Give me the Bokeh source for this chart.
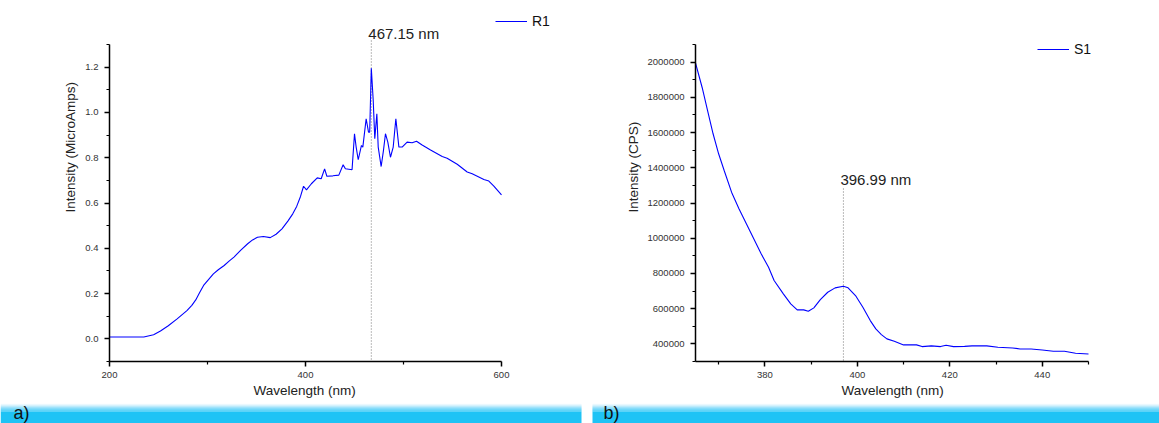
from bokeh.plotting import figure
from bokeh.layouts import column, row
from bokeh.models import (Range1d, FixedTicker, PrintfTickFormatter, Label,
                          Legend, LegendItem, Title)
from bokeh.embed import file_html
from bokeh.resources import INLINE
from bokeh.core.properties import value

# ---------------- data ----------------
r1_wavelength = [200, 235, 245, 252, 260, 269, 279, 284, 288, 292, 296, 301, 306, 311, 317,
                 322, 327, 334, 341, 346, 351, 357, 364, 370, 376, 382, 387, 391, 395, 398,
                 401, 406, 412, 416, 419.5, 421.8, 428, 434, 438.4, 440.7, 447.5, 450, 451.7,
                 453.8, 457.1, 458.5, 461.9, 464.3, 465.5, 467.15, 469.1, 470.7, 472.8, 474.2,
                 477.2, 479.5, 481.6, 484, 486.7, 489.5, 492.2, 495.3, 498.6, 503.7, 508.8,
                 513.3, 519, 527.6, 539.5, 544.5, 554.8, 565, 570.1, 582, 587.1, 592.2, 600]
r1_intensity = [0.008, 0.008, 0.018, 0.035, 0.058, 0.088, 0.125, 0.148, 0.172, 0.205, 0.236,
                0.262, 0.287, 0.305, 0.324, 0.343, 0.361, 0.392, 0.420, 0.437, 0.449, 0.452,
                0.447, 0.462, 0.486, 0.520, 0.552, 0.585, 0.630, 0.674, 0.658, 0.685, 0.711,
                0.707, 0.751, 0.718, 0.720, 0.723, 0.769, 0.751, 0.747, 0.906, 0.847, 0.791,
                0.854, 0.847, 0.972, 0.913, 0.913, 1.195, 1.053, 0.884, 0.994, 0.847, 0.761,
                0.830, 0.906, 0.869, 0.802, 0.847, 0.972, 0.847, 0.847, 0.869, 0.866, 0.873,
                0.856, 0.834, 0.805, 0.798, 0.771, 0.737, 0.729, 0.704, 0.697, 0.675, 0.636]
r1_peak = 467.15

s1_wavelength = [365, 366.45, 367.6, 368.8, 370, 371.2, 372.8, 374.4, 376, 377.6, 379.2,
                 380.8, 382, 384, 385.6, 387, 388.4, 389.4, 390.6, 392, 393.6, 395.2, 396.99,
                 398, 399.6, 401.2, 402.8, 404, 405.2, 406.4, 408, 410, 412.8, 414, 416, 418,
                 419.2, 420.8, 423.2, 424.8, 428, 430.4, 433.6, 435.2, 437.6, 440, 442.4,
                 444.8, 447.2, 450]
s1_intensity = [1995000, 1854500, 1725600, 1593200, 1479500, 1384700, 1261400, 1167000,
                1081800, 996600, 911400, 835200, 759700, 684000, 627300, 593000, 593000,
                585200, 604500, 651700, 693200, 718200, 727300, 718200, 674400, 608000,
                532400, 485200, 452800, 428400, 414700, 394300, 394300, 384700, 388500,
                384700, 392000, 384700, 386000, 388500, 388500, 381000, 377000, 371400,
                371400, 365700, 358100, 358100, 346700, 343000]
s1_peak = 396.99

a_xlim = (200, 600)
a_ylim = (-0.1, 1.3)
a_xticks = [200, 400, 600]
a_xminor = [300, 500]
a_yticks = [0.0, 0.2, 0.4, 0.6, 0.8, 1.0, 1.2]
a_yminor = [-0.1, 0.1, 0.3, 0.5, 0.7, 0.9, 1.1, 1.3]
b_xlim = (365, 450)
b_ylim = (300000, 2100000)
b_xticks = [380, 400, 420, 440]
b_xminor = [370, 390, 410, 430, 450]
b_yticks = [400000, 600000, 800000, 1000000, 1200000, 1400000, 1600000, 1800000, 2000000]
b_yminor = [300000, 500000, 700000, 900000, 1100000, 1300000, 1500000, 1700000, 1900000, 2100000]

FONT = "Liberation Sans"
LINE = "#0000ff"
DOT = "#777777"

# axis box geometry in page pixels
AXIS_TOP, AXIS_BOTTOM = 44, 361
FRAME_TOP = 8


def make_panel(width, axis_left, axis_right, frame_left_page, frame_right_page,
               xlim, ylim, xlabel_offset):
    # extend the frame beyond the axis box so annotations fit; axes keep their bounds
    xs = (xlim[1] - xlim[0]) / (axis_right - axis_left)
    ys = (ylim[1] - ylim[0]) / (AXIS_BOTTOM - AXIS_TOP)
    x_end = xlim[1] + (frame_right_page - axis_right) * xs
    y_end = ylim[1] + (AXIS_TOP - FRAME_TOP) * ys
    p = figure(width=width, height=403, x_range=Range1d(xlim[0], x_end),
               y_range=Range1d(ylim[0], y_end), output_backend="svg", toolbar_location=None,
               min_border_left=axis_left - frame_left_page,
               min_border_right=frame_left_page + width - frame_right_page,
               min_border_top=FRAME_TOP, min_border_bottom=403 - AXIS_BOTTOM)
    p.grid.visible = False
    p.outline_line_color = None
    p.background_fill_alpha = 0
    p.xaxis.bounds = xlim
    p.yaxis.bounds = ylim
    for ax in p.axis:
        ax.axis_line_width = 1.5
        ax.axis_line_color = "#000000"
        ax.major_tick_line_width = 1.5
        ax.minor_tick_line_width = 1.2
        ax.major_tick_out = 5
        ax.major_tick_in = 0
        ax.minor_tick_out = 3
        ax.minor_tick_in = 0
        ax.major_label_text_font = FONT
        ax.major_label_text_font_size = "9.5px"
        ax.major_label_text_color = "#333333"
    p.xaxis.major_label_standoff = 5
    p.yaxis.major_label_standoff = 6
    p.add_layout(Title(text="Wavelength (nm)", align="left", offset=xlabel_offset,
                       vertical_align="top", standoff=4, text_font=FONT,
                       text_font_size="13.5px", text_font_style="normal",
                       text_color="#222222"), "below")
    return p, ys


def add_legend(p, r, name, loc):
    lg = Legend(items=[LegendItem(label=name, renderers=[r])], location=loc,
                padding=0, margin=0, spacing=0, glyph_width=32, glyph_height=16,
                label_height=16, label_standoff=5, label_text_font=FONT,
                label_text_font_size="14px", label_text_color="#111111",
                border_line_color=None, background_fill_alpha=0)
    p.add_layout(lg)


def ylabel(p, text, standoff):
    p.add_layout(Title(text=text, align="left", offset=149, standoff=standoff,
                       text_font=FONT, text_font_size="13.5px", text_font_style="normal",
                       text_color="#222222"), "left")


def peak_label(p, x, y_from_bottom, text):
    p.add_layout(Label(x=x, y=y_from_bottom, y_units="screen", x_offset=-3, text=text,
                       text_font=FONT, text_font_size="15px", text_baseline="middle",
                       text_align="left", text_color="#222222"))


# ---------------- panel a ----------------
p1, ys1 = make_panel(585, 109, 501, 0, 565, a_xlim, a_ylim, 144)
p1.xaxis.ticker = FixedTicker(ticks=a_xticks, minor_ticks=a_xminor)
p1.yaxis.ticker = FixedTicker(ticks=a_yticks, minor_ticks=a_yminor)
p1.yaxis.formatter = PrintfTickFormatter(format="%.1f")
p1.segment(x0=[r1_peak], y0=[a_ylim[1] + 4 * ys1], x1=[r1_peak], y1=[a_ylim[0]],
           line_color=DOT, line_width=1, line_dash="1 2")
r1 = p1.line(r1_wavelength, r1_intensity, line_color=LINE, line_width=1.1)
peak_label(p1, r1_peak, AXIS_BOTTOM - 33, "467.15 nm")
add_legend(p1, r1, "R1", (495 - 109, AXIS_BOTTOM - 29))
ylabel(p1, "Intensity (MicroAmps)", 10)

# ---------------- panel b ----------------
p2, ys2 = make_panel(574, 695, 1088, 585, 1100, b_xlim, b_ylim, 146)
p2.xaxis.ticker = FixedTicker(ticks=b_xticks, minor_ticks=b_xminor)
p2.yaxis.ticker = FixedTicker(ticks=b_yticks, minor_ticks=b_yminor)
p2.yaxis.formatter = PrintfTickFormatter(format="%d")
p2.segment(x0=[s1_peak], y0=[b_ylim[1] - (188 - AXIS_TOP) * ys2], x1=[s1_peak], y1=[b_ylim[0]],
           line_color=DOT, line_width=1, line_dash="1 2")
r2 = p2.line(s1_wavelength, s1_intensity, line_color=LINE, line_width=1.1)
peak_label(p2, s1_peak, AXIS_BOTTOM - 179, "396.99 nm")
add_legend(p2, r2, "S1", (1037 - 695, AXIS_BOTTOM - 57))
ylabel(p2, "Intensity (CPS)", 7)

# ---------------- caption bands ----------------
W = 1159
H = 20
p3 = figure(width=W, height=H, x_range=Range1d(0, W), y_range=Range1d(0, H),
            output_backend="svg", toolbar_location=None, min_border=0,
            x_axis_location=None, y_axis_location=None)
p3.grid.visible = False
p3.outline_line_color = None
grad = ["#f2fbfe", "#dcf4fd", "#bdebfc", "#98e0fa", "#72d6f9", "#52cdf8", "#3bc8f7", "#2bc5f6"]
solid = "#1fc3f5"
spans = [(0, 581), (592, W)]
L, R, B, T, C = [], [], [], [], []
for (a, b) in spans:
    L.append(a); R.append(b); B.append(0); T.append(H - len(grad)); C.append(solid)
    for i, c in enumerate(grad):
        L.append(a); R.append(b); T.append(H - i); B.append(H - i - 1); C.append(c)
p3.quad(left=L, right=R, bottom=B, top=T, fill_color=C, line_color=None)
p3.text(x=[13, 603], y=[1, 1], text=["a)", "b)"], text_font=value(FONT),
        text_font_size="18px", text_baseline="bottom", text_color="#111111")

layout = column(row(p1, p2), p3)
open("out.html", "w").write(file_html(layout, INLINE))
